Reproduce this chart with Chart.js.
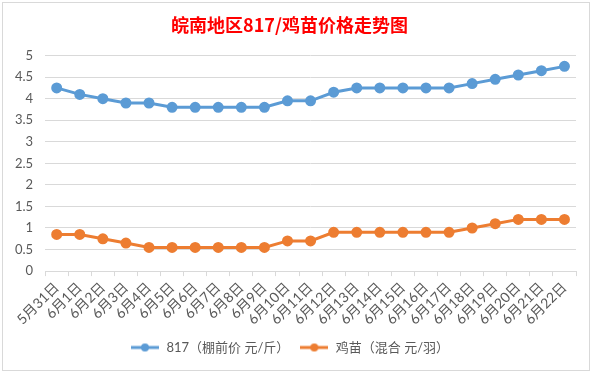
<!DOCTYPE html>
<html>
<head>
<meta charset="utf-8">
<script src="https://cdn.jsdelivr.net/npm/chart.js@4"></script>
<style>
  body { margin: 0; background: #fff; width: 592px; height: 373px; overflow: hidden; }
  #box { position: absolute; left: 2px; top: 2px; width: 586px; height: 367px; border: 1px solid #d9d9d9; }
</style>
</head>
<body>
<div id="box"><canvas id="priceChart" width="586" height="367"></canvas></div>
<script>
// 日期
const dates = ['5月31日', '6月1日', '6月2日', '6月3日', '6月4日', '6月5日', '6月6日', '6月7日',
  '6月8日', '6月9日', '6月10日', '6月11日', '6月12日', '6月13日', '6月14日', '6月15日',
  '6月16日', '6月17日', '6月18日', '6月19日', '6月20日', '6月21日', '6月22日'];
// 817 棚前价 (元/斤)
const price817 = [4.25, 4.1, 4.0, 3.9, 3.9, 3.8, 3.8, 3.8, 3.8, 3.8, 3.95, 3.95, 4.15, 4.25,
  4.25, 4.25, 4.25, 4.25, 4.35, 4.45, 4.55, 4.65, 4.75];
// 鸡苗 混合 (元/羽)
const chickPrice = [0.85, 0.85, 0.75, 0.65, 0.55, 0.55, 0.55, 0.55, 0.55, 0.55, 0.7, 0.7, 0.9,
  0.9, 0.9, 0.9, 0.9, 0.9, 1.0, 1.1, 1.2, 1.2, 1.2];

const font = "Lato, 'Noto Sans CJK SC', sans-serif";

// legend marker: a short line with a dot
function legendMark(color) {
  const c = document.createElement('canvas');
  c.width = 28; c.height = 10;
  const g = c.getContext('2d');
  g.strokeStyle = color; g.lineWidth = 3;
  g.beginPath(); g.moveTo(0, 5); g.lineTo(28, 5); g.stroke();
  g.fillStyle = color;
  g.beginPath(); g.arc(14, 5, 4, 0, Math.PI * 2); g.fill();
  return c;
}

const ctx = document.getElementById('priceChart').getContext('2d');
new Chart(ctx, {
  type: 'line',
  data: {
    labels: dates,
    datasets: [{
      label: '817（棚前价 元/斤）',
      data: price817,
      borderColor: '#5b9bd5',
      backgroundColor: '#5b9bd5',
      borderWidth: 3,
      pointRadius: 4,
      pointStyle: 'circle',
      legendImg: legendMark('#5b9bd5')
    }, {
      label: '鸡苗（混合 元/羽）',
      data: chickPrice,
      borderColor: '#ed7d31',
      backgroundColor: '#ed7d31',
      borderWidth: 3,
      pointRadius: 4,
      pointStyle: 'circle',
      legendImg: legendMark('#ed7d31')
    }]
  },
  options: {
    responsive: false,
    animation: false,
    layout: { padding: { left: 0, right: 13, top: 0, bottom: 6 } },
    plugins: {
      title: {
        display: true,
        text: '皖南地区817/鸡苗价格走势图',
        color: '#ff0000',
        font: { family: "'Noto Sans CJK SC', sans-serif", size: 18, weight: 'bold' },
        padding: { top: 11, bottom: 20 }
      },
      legend: {
        position: 'bottom',
        labels: {
          usePointStyle: true,
          pointStyleWidth: 30,
          color: '#595959',
          font: { family: font, size: 13 },
          padding: 10,
          generateLabels(chart) {
            return chart.data.datasets.map((ds, i) => ({
              text: ds.label,
              pointStyle: ds.legendImg,
              fontColor: '#595959',
              datasetIndex: i,
              hidden: false
            }));
          }
        }
      },
      tooltip: { enabled: false }
    },
    scales: {
      x: {
        offset: true,
        grid: { offset: true, drawOnChartArea: false, drawTicks: true, tickLength: 5, color: '#d9d9d9' },
        border: { display: true, color: '#d9d9d9' },
        ticks: {
          color: '#595959',
          font: { family: font, size: 14 },
          minRotation: 45,
          maxRotation: 45,
          autoSkip: false,
          padding: 3
        }
      },
      y: {
        min: 0,
        max: 5,
        grid: { color: '#d9d9d9', drawTicks: false },
        border: { display: false },
        ticks: {
          stepSize: 0.5,
          color: '#595959',
          font: { family: font, size: 13 },
          padding: 12,
          callback: v => String(v)
        }
      }
    }
  }
});
</script>
</body>
</html>
